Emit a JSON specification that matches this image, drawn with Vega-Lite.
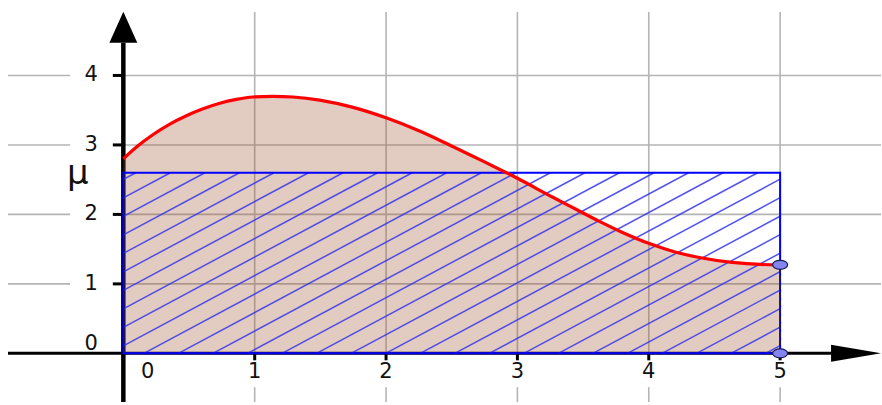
{
  "$schema": "https://vega.github.io/schema/vega-lite/v6.json",
  "width": 882,
  "height": 405,
  "autosize": {"type": "fit", "contains": "padding"},
  "padding": 0,
  "background": "white",
  "config": {"view": {"stroke": null}},
  "datasets": {
    "grid": [
      {"x": 1, "x2": 1, "y": 4.914, "y2": 0},
      {"x": 2, "x2": 2, "y": 4.914, "y2": 0},
      {"x": 3, "x2": 3, "y": 4.914, "y2": 0},
      {"x": 4, "x2": 4, "y": 4.914, "y2": 0},
      {"x": 5, "x2": 5, "y": 4.914, "y2": 0},
      {"x": 1, "x2": 1, "y": -0.486, "y2": -0.7},
      {"x": 2, "x2": 2, "y": -0.486, "y2": -0.7},
      {"x": 3, "x2": 3, "y": -0.486, "y2": -0.7},
      {"x": 4, "x2": 4, "y": -0.486, "y2": -0.7},
      {"x": 5, "x2": 5, "y": -0.486, "y2": -0.7},
      {"x": 0, "x2": 5.768, "y": 1, "y2": 1},
      {"x": 0, "x2": 5.768, "y": 2, "y2": 2},
      {"x": 0, "x2": 5.768, "y": 3, "y2": 3},
      {"x": 0, "x2": 5.768, "y": 4, "y2": 4},
      {"x": -0.878, "x2": -0.405, "y": 1, "y2": 1},
      {"x": -0.878, "x2": -0.405, "y": 2, "y2": 2},
      {"x": -0.878, "x2": -0.405, "y": 3, "y2": 3},
      {"x": -0.878, "x2": -0.405, "y": 4, "y2": 4}
    ],
    "curve": [
      {"x": 0, "y": 2.80}, {"x": 0.1, "y": 2.97}, {"x": 0.227, "y": 3.15},
      {"x": 0.354, "y": 3.30}, {"x": 0.48, "y": 3.42}, {"x": 0.607, "y": 3.52},
      {"x": 0.734, "y": 3.60}, {"x": 0.861, "y": 3.655}, {"x": 0.987, "y": 3.69},
      {"x": 1.139, "y": 3.70}, {"x": 1.291, "y": 3.69}, {"x": 1.494, "y": 3.645},
      {"x": 1.749, "y": 3.54}, {"x": 2.0, "y": 3.39}, {"x": 2.255, "y": 3.20},
      {"x": 2.483, "y": 3.00}, {"x": 2.734, "y": 2.77}, {"x": 2.916, "y": 2.60},
      {"x": 3.0, "y": 2.52}, {"x": 3.266, "y": 2.25}, {"x": 3.45, "y": 2.07},
      {"x": 3.624, "y": 1.90}, {"x": 3.8, "y": 1.74}, {"x": 4.004, "y": 1.58},
      {"x": 4.2, "y": 1.46}, {"x": 4.384, "y": 1.38}, {"x": 4.635, "y": 1.31},
      {"x": 4.85, "y": 1.28}, {"x": 5, "y": 1.275}
    ],
    "hatch": [
      {"x": 0, "y": 2.504, "x2": 0.095, "y2": 2.6},
      {"x": 0, "y": 2.238, "x2": 0.358, "y2": 2.6},
      {"x": 0, "y": 1.971, "x2": 0.621, "y2": 2.6},
      {"x": 0, "y": 1.705, "x2": 0.884, "y2": 2.6},
      {"x": 0, "y": 1.439, "x2": 1.147, "y2": 2.6},
      {"x": 0, "y": 1.173, "x2": 1.410, "y2": 2.6},
      {"x": 0, "y": 0.907, "x2": 1.673, "y2": 2.6},
      {"x": 0, "y": 0.641, "x2": 1.936, "y2": 2.6},
      {"x": 0, "y": 0.374, "x2": 2.199, "y2": 2.6},
      {"x": 0, "y": 0.108, "x2": 2.462, "y2": 2.6},
      {"x": 0.156, "y": 0, "x2": 2.725, "y2": 2.6},
      {"x": 0.419, "y": 0, "x2": 2.988, "y2": 2.6},
      {"x": 0.682, "y": 0, "x2": 3.251, "y2": 2.6},
      {"x": 0.945, "y": 0, "x2": 3.514, "y2": 2.6},
      {"x": 1.208, "y": 0, "x2": 3.777, "y2": 2.6},
      {"x": 1.471, "y": 0, "x2": 4.040, "y2": 2.6},
      {"x": 1.734, "y": 0, "x2": 4.303, "y2": 2.6},
      {"x": 1.997, "y": 0, "x2": 4.566, "y2": 2.6},
      {"x": 2.260, "y": 0, "x2": 4.829, "y2": 2.6},
      {"x": 2.523, "y": 0, "x2": 5, "y2": 2.507},
      {"x": 2.786, "y": 0, "x2": 5, "y2": 2.241},
      {"x": 3.049, "y": 0, "x2": 5, "y2": 1.974},
      {"x": 3.312, "y": 0, "x2": 5, "y2": 1.708},
      {"x": 3.575, "y": 0, "x2": 5, "y2": 1.442},
      {"x": 3.838, "y": 0, "x2": 5, "y2": 1.176},
      {"x": 4.101, "y": 0, "x2": 5, "y2": 0.910},
      {"x": 4.364, "y": 0, "x2": 5, "y2": 0.644},
      {"x": 4.627, "y": 0, "x2": 5, "y2": 0.377},
      {"x": 4.890, "y": 0, "x2": 5, "y2": 0.111}
    ]
  },
  "layer": [
    {
      "data": {"name": "grid"},
      "mark": {"type": "rule", "color": "#b4b4b4", "strokeWidth": 1.6},
      "encoding": {
        "x": {"field": "x", "type": "quantitative", "scale": {"domain": [-0.939, 5.768], "nice": false, "zero": false}, "axis": null},
        "x2": {"field": "x2"},
        "y": {"field": "y", "type": "quantitative", "scale": {"domain": [-0.7, 5.086], "nice": false, "zero": false}, "axis": null},
        "y2": {"field": "y2"}
      }
    },
    {
      "data": {"values": [{"x": -0.878, "x2": 5.39, "y": 0, "y2": 0}]},
      "mark": {"type": "rule", "color": "black", "strokeWidth": 3},
      "encoding": {
        "x": {"field": "x", "type": "quantitative"},
        "x2": {"field": "x2"},
        "y": {"field": "y", "type": "quantitative"},
        "y2": {"field": "y2"}
      }
    },
    {
      "data": {"values": [{"x": 0, "x2": 0, "y": -0.7, "y2": 4.47}]},
      "mark": {"type": "rule", "color": "black", "strokeWidth": 4.5},
      "encoding": {
        "x": {"field": "x", "type": "quantitative"},
        "x2": {"field": "x2"},
        "y": {"field": "y", "type": "quantitative"},
        "y2": {"field": "y2"}
      }
    },
    {
      "data": {"values": [
        {"x": 1, "x2": 1, "y": 0, "y2": -0.1},
        {"x": 2, "x2": 2, "y": 0, "y2": -0.1},
        {"x": 3, "x2": 3, "y": 0, "y2": -0.1},
        {"x": 4, "x2": 4, "y": 0, "y2": -0.1},
        {"x": 5, "x2": 5, "y": 0, "y2": -0.1},
        {"x": -0.08, "x2": 0, "y": 1, "y2": 1},
        {"x": -0.08, "x2": 0, "y": 2, "y2": 2},
        {"x": -0.08, "x2": 0, "y": 3, "y2": 3},
        {"x": -0.08, "x2": 0, "y": 4, "y2": 4}
      ]},
      "mark": {"type": "rule", "color": "black", "strokeWidth": 3},
      "encoding": {
        "x": {"field": "x", "type": "quantitative"},
        "x2": {"field": "x2"},
        "y": {"field": "y", "type": "quantitative"},
        "y2": {"field": "y2"}
      }
    },
    {
      "data": {"name": "curve"},
      "mark": {"type": "area", "color": "#a0522d", "opacity": 0.3, "interpolate": "monotone"},
      "encoding": {
        "x": {"field": "x", "type": "quantitative"},
        "y": {"field": "y", "type": "quantitative"},
        "y2": {"datum": 0}
      }
    },
    {
      "data": {"name": "hatch"},
      "mark": {"type": "rule", "color": "#3535ea", "strokeWidth": 1.5, "opacity": 0.85},
      "encoding": {
        "x": {"field": "x", "type": "quantitative"},
        "x2": {"field": "x2"},
        "y": {"field": "y", "type": "quantitative"},
        "y2": {"field": "y2"}
      }
    },
    {
      "data": {"values": [{"x": 0, "x2": 5, "y": 0, "y2": 2.6}]},
      "mark": {"type": "rect", "fill": null, "fillOpacity": 0, "stroke": "#0000ff", "strokeWidth": 2},
      "encoding": {
        "x": {"field": "x", "type": "quantitative"},
        "x2": {"field": "x2"},
        "y": {"field": "y", "type": "quantitative"},
        "y2": {"field": "y2"}
      }
    },
    {
      "data": {"name": "curve"},
      "mark": {"type": "line", "color": "#ff0000", "strokeWidth": 3.2, "interpolate": "monotone"},
      "encoding": {
        "x": {"field": "x", "type": "quantitative"},
        "y": {"field": "y", "type": "quantitative"}
      }
    },
    {
      "data": {"values": [{"x": 5, "x2": 5, "y": 0, "y2": 1.275}]},
      "mark": {"type": "rule", "color": "#222222", "strokeWidth": 1.5, "strokeDash": [5, 3]},
      "encoding": {
        "x": {"field": "x", "type": "quantitative"},
        "x2": {"field": "x2"},
        "y": {"field": "y", "type": "quantitative"},
        "y2": {"field": "y2"}
      }
    },
    {
      "data": {"values": [{"x": 5, "y": 1.275}, {"x": 5, "y": 0}]},
      "mark": {"type": "point", "filled": true, "fill": "#8585f2", "stroke": "#1a1a5a", "strokeWidth": 1.2, "opacity": 1, "size": 225, "shape": "M-1,0A1,0.6,0,1,0,1,0A1,0.6,0,1,0,-1,0Z"},
      "encoding": {
        "x": {"field": "x", "type": "quantitative"},
        "y": {"field": "y", "type": "quantitative"}
      }
    },
    {
      "data": {"values": [{"x": 0, "y": 4.693}]},
      "mark": {"type": "point", "filled": true, "color": "black", "opacity": 1, "size": 961, "shape": "M0,-1L0.9,1L-0.9,1Z"},
      "encoding": {
        "x": {"field": "x", "type": "quantitative"},
        "y": {"field": "y", "type": "quantitative"}
      }
    },
    {
      "data": {"values": [{"x": 5.578, "y": 0}]},
      "mark": {"type": "point", "filled": true, "color": "black", "opacity": 1, "size": 2500, "shape": "M1,0L-1,-0.34L-1,0.34Z"},
      "encoding": {
        "x": {"field": "x", "type": "quantitative"},
        "y": {"field": "y", "type": "quantitative"}
      }
    },
    {
      "data": {"values": [
        {"x": -0.245, "y": 0.14, "t": "0"},
        {"x": -0.245, "y": 1, "t": "1"},
        {"x": -0.245, "y": 2, "t": "2"},
        {"x": -0.245, "y": 3, "t": "3"},
        {"x": -0.245, "y": 4, "t": "4"},
        {"x": 0.186, "y": -0.27, "t": "0"},
        {"x": 1, "y": -0.27, "t": "1"},
        {"x": 2, "y": -0.27, "t": "2"},
        {"x": 3, "y": -0.27, "t": "3"},
        {"x": 4, "y": -0.27, "t": "4"},
        {"x": 5, "y": -0.27, "t": "5"}
      ]},
      "mark": {"type": "text", "font": "DejaVu Sans", "fontSize": 21, "color": "#111111", "align": "center", "baseline": "middle"},
      "encoding": {
        "x": {"field": "x", "type": "quantitative"},
        "y": {"field": "y", "type": "quantitative"},
        "text": {"field": "t"}
      }
    },
    {
      "data": {"values": [{"x": -0.346, "y": 2.443, "t": "μ"}]},
      "mark": {"type": "text", "font": "DejaVu Sans", "fontSize": 34, "color": "#111111", "align": "center", "baseline": "alphabetic"},
      "encoding": {
        "x": {"field": "x", "type": "quantitative"},
        "y": {"field": "y", "type": "quantitative"},
        "text": {"field": "t"}
      }
    }
  ]
}
